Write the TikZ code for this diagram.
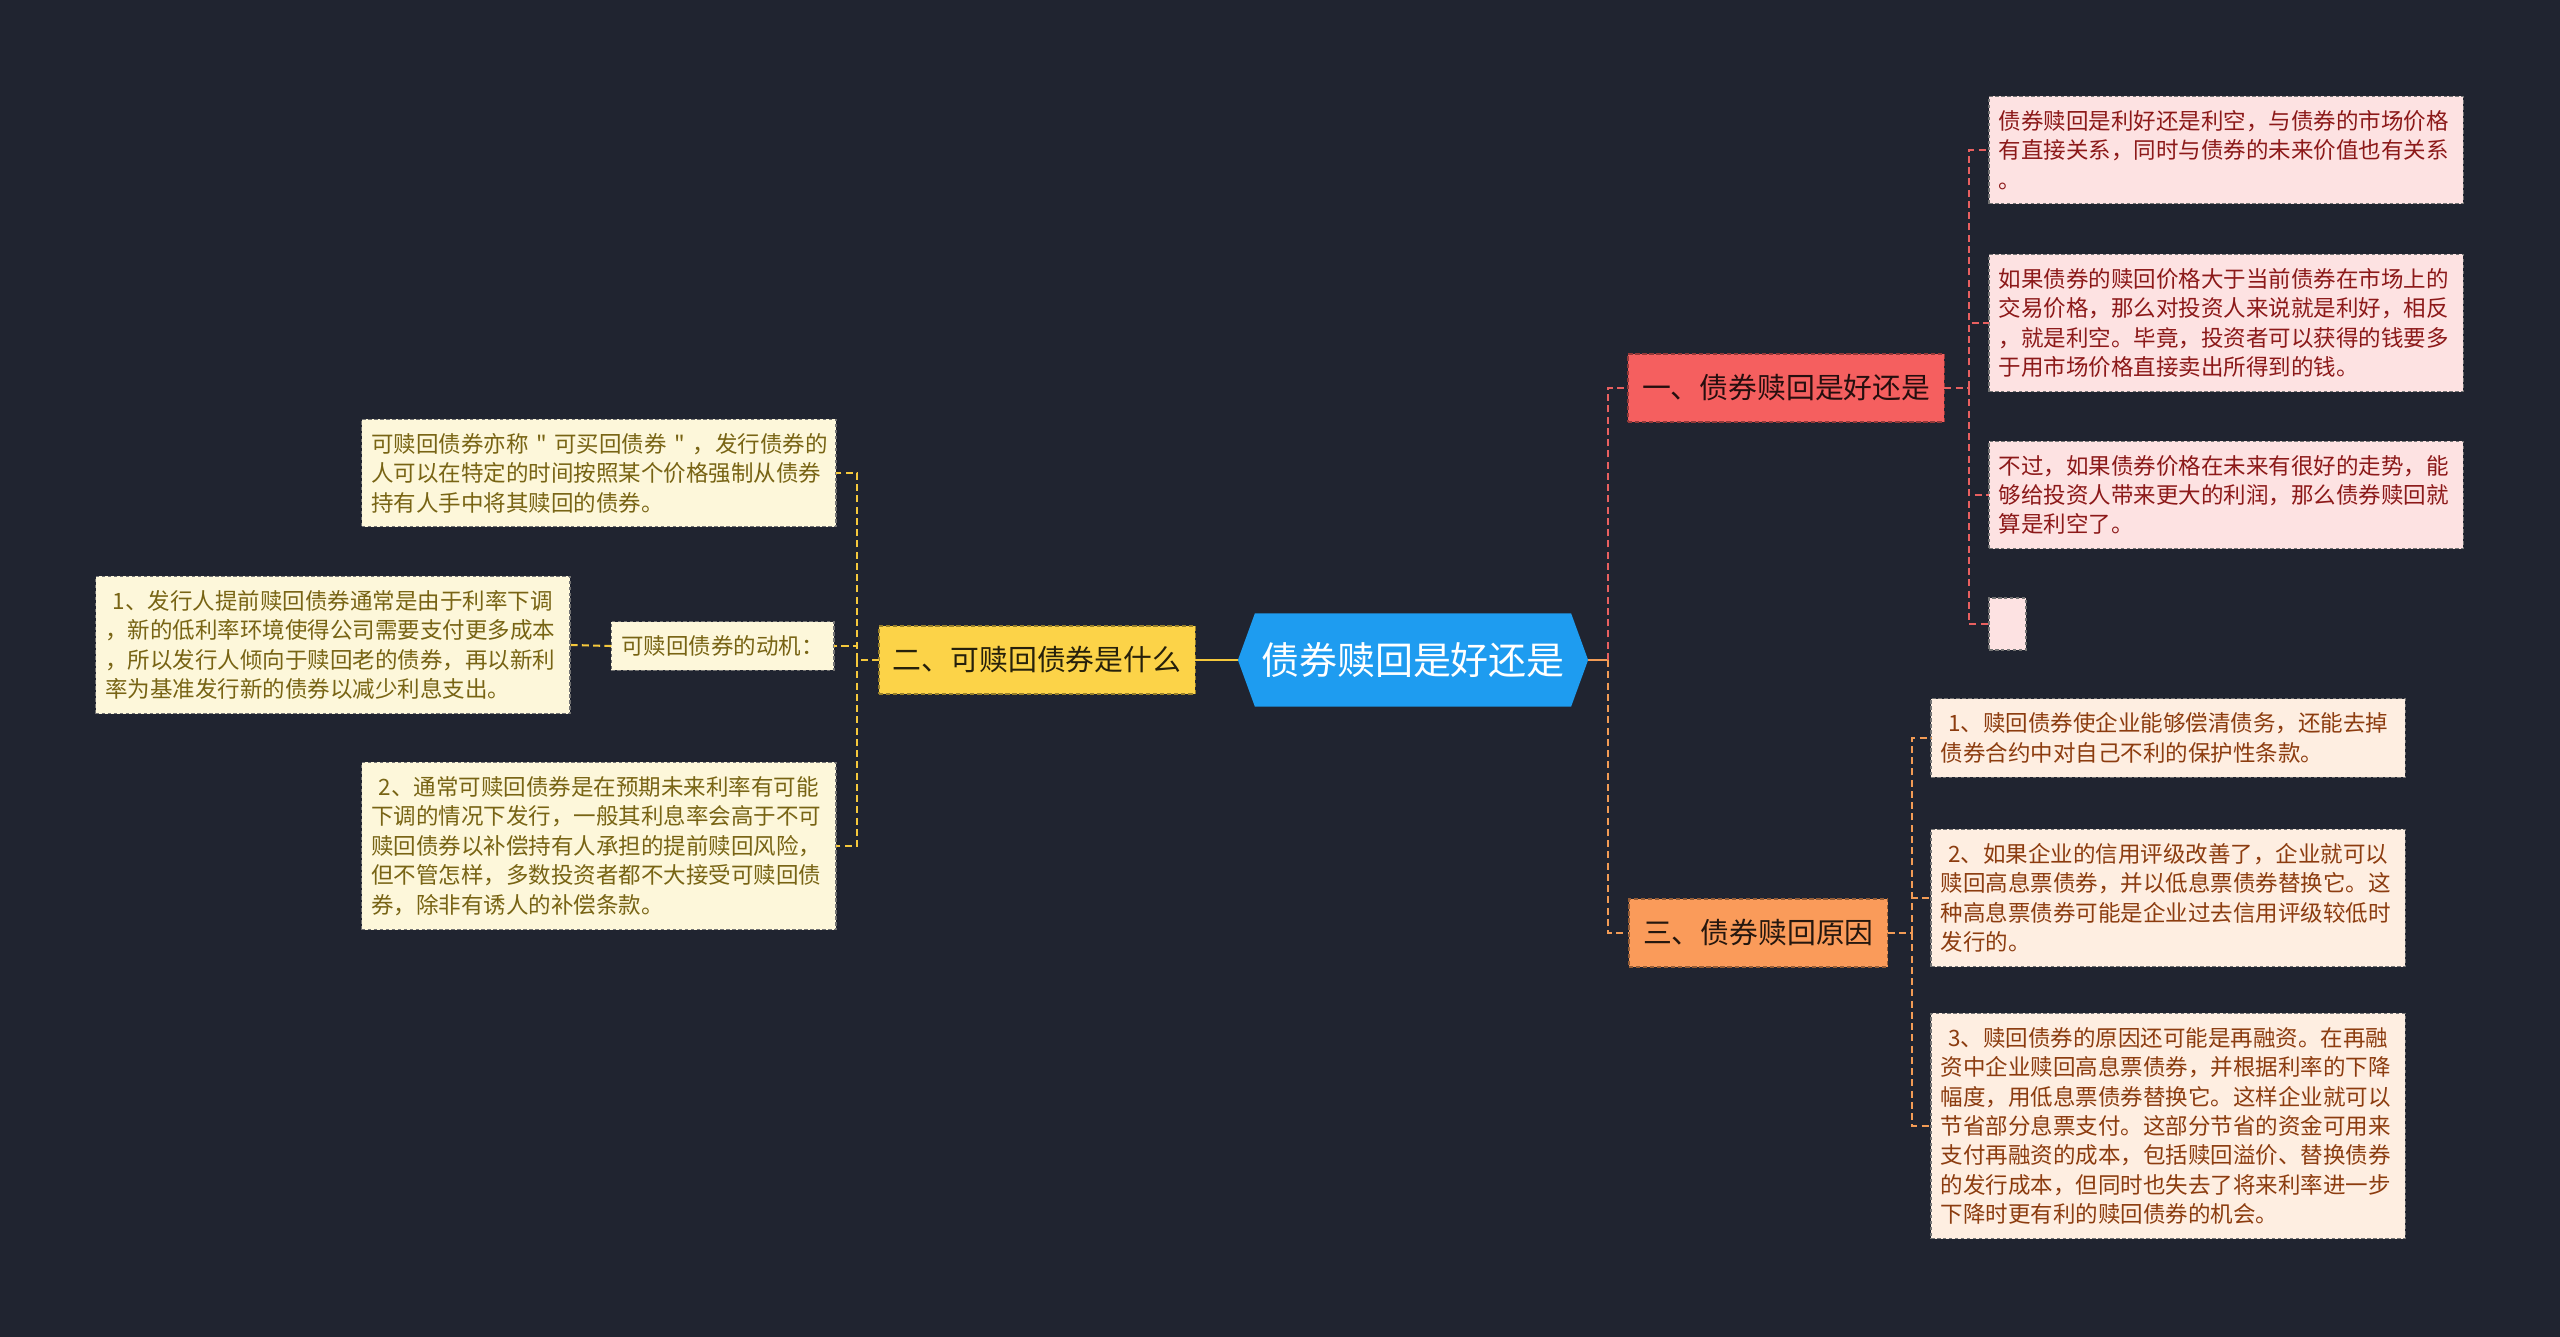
\documentclass[tikz,border=0pt]{standalone}
\usepackage{fontspec}
\setmainfont{Noto Sans CJK SC}[Ligatures=TeXOff]
\usepackage{tikz}
\usetikzlibrary{shapes.symbols}
\definecolor{bg}{RGB}{32,36,48}
\definecolor{hubblue}{RGB}{30,156,240}
\definecolor{redmain}{RGB}{245,95,95}
\definecolor{yelmain}{RGB}{252,211,72}
\definecolor{orgmain}{RGB}{250,155,90}
\definecolor{pinkbox}{RGB}{253,226,226}
\definecolor{creambox}{RGB}{253,247,218}
\definecolor{peachbox}{RGB}{254,238,225}
\definecolor{pinktxt}{RGB}{140,25,25}
\definecolor{creamtxt}{RGB}{120,100,20}
\definecolor{peachtxt}{RGB}{140,60,15}
\definecolor{redlink}{RGB}{232,96,96}
\definecolor{yellink}{RGB}{245,200,60}
\definecolor{orglink}{RGB}{242,155,85}

\begin{document}
\begin{tikzpicture}[x=0.01cm, y=-0.01cm, every node/.style={outer sep=0pt},
    hub/.style={signal, signal to=west and east, signal pointer angle=140, fill=hubblue, text=white, minimum width=3.5cm, minimum height=0.93cm, inner sep=0pt, font=\fontsize{10.8pt}{12pt}\selectfont},
    topic/.style={fill=#1, draw=#1!60!black, dash pattern=on 1.2pt off 0.8pt, line width=0.4pt, text=black!85!#1, minimum height=0.68cm, inner xsep=0.14cm, font=\fontsize{8.2pt}{10pt}\selectfont},
    leaf/.style={fill=#1, draw=black!55, dash pattern=on 1pt off 0.7pt, line width=0.35pt, font=\fontsize{6.4pt}{8.36pt}\selectfont},
    wide/.style={text width=4.55cm, align=left, inner xsep=0.095cm, inner ysep=0.14cm},
    link/.style={draw=#1, line width=0.6pt, dash pattern=on 2pt off 1.2pt},
    stem/.style={draw=#1, line width=0.7pt}]
    \fill[bg] (0,0) rectangle (2560,1337); \useasboundingbox (0,0) rectangle (2560,1337);

    \node[hub] (root) at (1413,660) {债券赎回是好还是};
    \node[topic=yelmain] (q2) at (1037,660) {二、可赎回债券是什么};
    \node[topic=redmain, anchor=west] (q1) at (1628,388) {一、债券赎回是好还是};
    \node[topic=orgmain, anchor=west] (q3) at (1629,933) {三、债券赎回原因};

    \node[leaf=creambox, wide, text=creamtxt, anchor=east] (c1) at (836,473) {可赎回债券亦称~"~可买回债券~"~，发行债券的\\人可以在特定的时间按照某个价格强制从债券\\持有人手中将其赎回的债券。};
    \node[leaf=creambox, text=creamtxt, anchor=east, inner xsep=0.1cm, inner ysep=0.14cm] (c2) at (834,646) {可赎回债券的动机：};
    \node[leaf=creambox, wide, text=creamtxt, anchor=east] (c21) at (570,645) {\ 1、发行人提前赎回债券通常是由于利率下调\\，新的低利率环境使得公司需要支付更多成本\\，所以发行人倾向于赎回老的债券，再以新利\\率为基准发行新的债券以减少利息支出。};
    \node[leaf=creambox, wide, text=creamtxt, anchor=east] (c3) at (836,846) {\ 2、通常可赎回债券是在预期未来利率有可能\\下调的情况下发行，一般其利息率会高于不可\\赎回债券以补偿持有人承担的提前赎回风险，\\但不管怎样，多数投资者都不大接受可赎回债\\券，除非有诱人的补偿条款。};

    \node[leaf=pinkbox, wide, text=pinktxt, anchor=west] (p1) at (1989,150) {债券赎回是利好还是利空，与债券的市场价格\\有直接关系，同时与债券的未来价值也有关系\\。};
    \node[leaf=pinkbox, wide, text=pinktxt, anchor=west] (p2) at (1989,323) {如果债券的赎回价格大于当前债券在市场上的\\交易价格，那么对投资人来说就是利好，相反\\，就是利空。毕竟，投资者可以获得的钱要多\\于用市场价格直接卖出所得到的钱。};
    \node[leaf=pinkbox, wide, text=pinktxt, anchor=west] (p3) at (1989,495) {不过，如果债券价格在未来有很好的走势，能\\够给投资人带来更大的利润，那么债券赎回就\\算是利空了。};
    \node[leaf=pinkbox, anchor=west, minimum width=0.37cm, minimum height=0.52cm, inner sep=0pt] (p4) at (1989,624) {};

    \node[leaf=peachbox, wide, text=peachtxt, anchor=west] (b1) at (1931,738) {\ 1、赎回债券使企业能够偿清债务，还能去掉\\债券合约中对自己不利的保护性条款。};
    \node[leaf=peachbox, wide, text=peachtxt, anchor=west] (b2) at (1931,898) {\ 2、如果企业的信用评级改善了，企业就可以\\赎回高息票债券，并以低息票债券替换它。这\\种高息票债券可能是企业过去信用评级较低时\\发行的。};
    \node[leaf=peachbox, wide, text=peachtxt, anchor=west] (b3) at (1931,1126) {\ 3、赎回债券的原因还可能是再融资。在再融\\资中企业赎回高息票债券，并根据利率的下降\\幅度，用低息票债券替换它。这样企业就可以\\节省部分息票支付。这部分节省的资金可用来\\支付再融资的成本，包括赎回溢价、替换债券\\的发行成本，但同时也失去了将来利率进一步\\下降时更有利的赎回债券的机会。};

    \coordinate (lj) at (857,660); \coordinate (rj) at (1608,660);
    \coordinate (aj) at (1969,388); \coordinate (bj) at (1912,933);
    \draw[stem=yellink] (root.west) -- (q2.east); \draw[stem=orglink] (root.east) -- (rj);
    \draw[link=yellink] (q2.west) -- (lj);
    \foreach \n in {c1,c2,c3} \draw[link=yellink] (lj) |- (\n.east);
    \draw[link=yellink] (c2.west) -- (c21.east);
    \draw[link=redlink] (rj) |- (q1.west); \draw[link=orglink] (rj) |- (q3.west);
    \draw[link=redlink] (q1.east) -- (aj);
    \foreach \n in {p1,p2,p3,p4} \draw[link=redlink] (aj) |- (\n.west);
    \draw[link=orglink] (q3.east) -- (bj);
    \foreach \n in {b1,b2,b3} \draw[link=orglink] (bj) |- (\n.west);
\end{tikzpicture}
\end{document}
